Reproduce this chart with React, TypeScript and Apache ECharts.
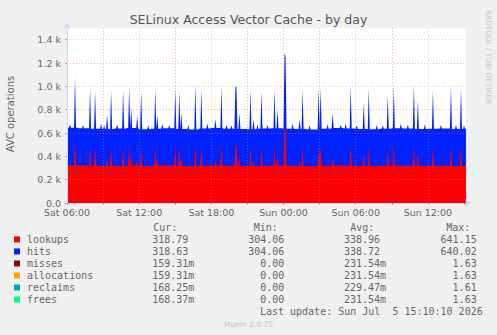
import React, { useEffect, useRef } from "react";
import * as echarts from "echarts";

// ---- time axis (hours since Sat 00:00), 5-minute samples ----
const X_START = 6; // Sat 06:00
const X_END = 39 + 10 / 60; // Sun 15:10
const SAMPLES = 399;

// ---- hourly baselines (hours 06..39) ----
const lookupsHourly = [324, 321, 319, 318, 320, 322, 317, 319, 321, 318, 316, 320, 322, 319, 318, 317, 320, 321, 319, 318, 316, 319, 322, 320, 318, 317, 319, 321, 320, 318, 319, 320, 318, 319];
const hitsHourly = [322, 320, 318, 317, 319, 321, 316, 318, 320, 317, 315, 319, 321, 318, 317, 316, 319, 320, 318, 317, 315, 318, 321, 319, 317, 316, 318, 320, 319, 317, 318, 319, 317, 318];

// ---- spikes: [time, lookups, hits] ----
const spikes: [string, number, number][] = [
  ["Sat 06:40", 542, 540], ["Sat 07:55", 493, 492], ["Sat 08:20", 482, 481], ["Sat 09:20", 378, 377],
  ["Sat 09:40", 482, 481], ["Sat 10:40", 482, 481], ["Sat 11:10", 497, 496], ["Sat 11:20", 409, 408],
  ["Sat 11:50", 371, 370], ["Sat 12:10", 478, 477], ["Sat 13:20", 488, 487], ["Sat 13:30", 378, 377],
  ["Sat 15:00", 488, 487], ["Sat 15:20", 478, 477], ["Sat 15:30", 385, 384], ["Sat 16:40", 507, 506],
  ["Sat 17:10", 488, 487], ["Sat 18:20", 359, 358], ["Sat 18:50", 497, 496], ["Sat 20:00", 499, 498],
  ["Sat 20:05", 499, 498], ["Sat 20:20", 385, 384], ["Sat 21:15", 488, 487], ["Sat 21:30", 357, 356],
  ["Sat 22:10", 478, 477], ["Sat 23:15", 488, 487], ["Sat 23:30", 399, 398], ["Sun 00:05", 641.15, 640.02],
  ["Sun 00:10", 630, 628], ["Sun 01:20", 358, 357], ["Sun 01:35", 488, 487], ["Sun 02:55", 493, 492],
  ["Sun 03:05", 493, 492], ["Sun 04:05", 385, 384], ["Sun 05:35", 500, 499], ["Sun 06:40", 430, 429],
  ["Sun 07:05", 490, 489], ["Sun 08:40", 460, 459], ["Sun 09:10", 500, 499], ["Sun 10:50", 505, 504],
  ["Sun 11:10", 440, 439], ["Sun 12:25", 480, 479], ["Sun 13:55", 500, 499], ["Sun 14:45", 490, 489],
];

// ---- small bumps on the hits series: [time, hits] ----
const hitsBumps: [string, number][] = [
  ["Sat 06:15", 352], ["Sat 07:20", 345], ["Sat 08:50", 360], ["Sat 09:05", 348], ["Sat 10:10", 355],
  ["Sat 12:45", 350], ["Sat 13:55", 358], ["Sat 14:30", 346], ["Sat 16:05", 352], ["Sat 17:40", 362],
  ["Sat 19:15", 350], ["Sat 19:40", 345], ["Sat 21:50", 356], ["Sat 22:40", 348], ["Sun 00:45", 360],
  ["Sun 02:10", 350], ["Sun 03:40", 355], ["Sun 04:45", 346], ["Sun 05:10", 362], ["Sun 06:05", 350],
  ["Sun 07:45", 352], ["Sun 08:15", 345], ["Sun 09:45", 358], ["Sun 10:20", 350], ["Sun 11:45", 356],
  ["Sun 13:05", 348], ["Sun 14:20", 352], ["Sun 15:00", 346],
];

// ---- legend / statistics ----
const legendNames = ["lookups", "hits", "misses", "allocations", "reclaims", "frees"];
const legendColors = ["#ff0000", "#0022ff", "#990000", "#ffa500", "#00aaaa", "#00ff80"];
const curVals = ["318.79", "318.63", "159.31m", "159.31m", "168.25m", "168.37m"];
const minVals = ["304.06", "304.06", "0.00", "0.00", "0.00", "0.00"];
const avgVals = ["338.96", "338.72", "231.54m", "231.54m", "229.47m", "231.54m"];
const maxVals = ["641.15", "640.02", "1.63", "1.63", "1.61", "1.63"];
const headers = ["Cur:", "Min:", "Avg:", "Max:"];

const xLabelHours = [6, 12, 18, 24, 30, 36];
const yLabelValues = [0, 200, 400, 600, 800, 1000, 1200, 1400];

function parseTime(s: string): number {
  const [day, hm] = s.split(" ");
  const [h, m] = hm.split(":").map(Number);
  return (day === "Sun" ? 24 : 0) + h + m / 60;
}
function idxOf(s: string): number {
  return Math.round((parseTime(s) - X_START) * 12);
}

function buildSeries() {
  const xs: number[] = [];
  const lookups: number[] = [];
  const hits: number[] = [];
  for (let i = 0; i < SAMPLES; i++) {
    xs.push(X_START + i / 12);
    const h = Math.floor(i / 12);
    lookups.push(lookupsHourly[h]);
    hits.push(hitsHourly[h]);
  }
  hitsBumps.forEach(([t, v]) => {
    const i = idxOf(t);
    if (i >= 0 && i < SAMPLES) hits[i] = v;
  });
  spikes.forEach(([t, l, hv]) => {
    const i = idxOf(t);
    if (i >= 0 && i < SAMPLES) {
      lookups[i] = l;
      hits[i] = hv;
    }
  });
  return { xs, layers: [lookups, hits] };
}

const FONT = '"DejaVu Sans", sans-serif';
const MONO = '"DejaVu Sans Mono", monospace';
const TEXT = "#666666";
const MAJOR = "rgba(255,0,0,0.32)";
const MINOR = "rgba(150,150,150,0.45)";
const AXIS = "#cfd6f8";

function dayLabel(h: number): string {
  const day = h >= 24 ? "Sun" : "Sat";
  const hh = h % 24;
  return `${day} ${String(hh).padStart(2, "0")}:00`;
}

export default function App() {
  const ref = useRef<HTMLDivElement>(null);
  useEffect(() => {
    document.body.style.margin = "0";
    const chart = echarts.init(ref.current!, null, { renderer: "svg" });
    const { xs, layers } = buildSeries();

    // stack manually (cumulative sums), draw top layer first
    const cum: number[][] = [];
    layers.forEach((arr, k) => {
      cum.push(arr.map((v, i) => v + (k > 0 ? cum[k - 1][i] : 0)));
    });
    const series = cum
      .map((vals, k) => ({
        name: legendNames[k],
        type: "line",
        symbol: "none",
        showSymbol: false,
        data: vals.map((v, i) => [xs[i], v]),
        lineStyle: { width: 0 },
        areaStyle: { color: legendColors[k], opacity: 1 },
        itemStyle: { color: legendColors[k] },
        z: 2,
      }))
      .reverse();

    const graphic: any[] = [
      {
        type: "text", x: 248.5, y: 19,
        style: { text: "SELinux Access Vector Cache - by day", font: `12.5px ${FONT}`, fill: "#555", align: "center", verticalAlign: "middle" },
      },
      {
        type: "text", x: 10.5, y: 114, rotation: Math.PI / 2,
        style: { text: "AVC operations", font: `10px ${FONT}`, fill: TEXT, align: "center", verticalAlign: "middle" },
      },
      {
        type: "text", x: 488, y: 57, rotation: -Math.PI / 2,
        style: { text: "RRDTOOL / TOBI OETIKER", font: `7.3px ${FONT}`, fill: "#c8c8c8", align: "center", verticalAlign: "middle" },
      },
      {
        type: "text", x: 248.5, y: 324,
        style: { text: "Munin 2.0.75", font: `7.5px ${FONT}`, fill: "#c0c0c0", align: "center", verticalAlign: "middle" },
      },
      {
        type: "text", x: 482.7, y: 311.3,
        style: { text: "Last update: Sun Jul  5 15:10:10 2026", font: `10px ${MONO}`, fill: TEXT, align: "right", verticalAlign: "middle" },
      },
    ];
    const headerX = [165.3, 265.7, 362.3, 458.3];
    headers.forEach((h, k) => {
      graphic.push({
        type: "text", x: headerX[k], y: 227.5,
        style: { text: h, font: `10px ${MONO}`, fill: TEXT, align: "center", verticalAlign: "middle" },
      });
    });
    const colEnd = [188.3, 284.3, 380, 476.7];
    const cols = [curVals, minVals, avgVals, maxVals];
    legendNames.forEach((name, k) => {
      const y = 239.4 + 12.03 * k;
      graphic.push({
        type: "rect", shape: { x: 14, y: y - 3, width: 6, height: 6 },
        style: { fill: legendColors[k] },
      });
      graphic.push({
        type: "text", x: 27, y,
        style: { text: name, font: `10px ${MONO}`, fill: TEXT, align: "left", verticalAlign: "middle" },
      });
      cols.forEach((col, c) => {
        const v = col[k];
        const hasSuffix = v.endsWith("m");
        const num = hasSuffix ? v.slice(0, -1) : v;
        graphic.push({
          type: "text", x: colEnd[c], y,
          style: { text: num, font: `10px ${MONO}`, fill: TEXT, align: "right", verticalAlign: "middle" },
        });
        if (hasSuffix) {
          graphic.push({
            type: "text", x: colEnd[c], y,
            style: { text: "m", font: `10px ${MONO}`, fill: TEXT, align: "left", verticalAlign: "middle" },
          });
        }
      });
    });

    chart.setOption({
      animation: false,
      backgroundColor: "#f0f0f0",
      textStyle: { fontFamily: FONT },
      grid: { left: 67, right: 31, top: 28, bottom: 132, show: true, backgroundColor: "#ffffff", borderWidth: 0 },
      xAxis: {
        type: "value",
        min: X_START,
        max: X_END,
        interval: 1,
        z: 3,
        axisLine: {
          show: true,
          lineStyle: { color: AXIS, width: 1 },
          symbol: ["none", "arrow"],
          symbolSize: [6, 6],
          symbolOffset: [0, 5],
        },
        axisTick: {
          show: true,
          customValues: [6, 9, 12, 15, 18, 21, 24, 27, 30, 33, 36, 39],
          length: 2,
          lineStyle: { color: "rgba(255,0,0,0.45)" },
        },
        axisLabel: {
          customValues: xLabelHours,
          formatter: (v: number) => (xLabelHours.includes(Math.round(v)) && Math.abs(v - Math.round(v)) < 1e-6 ? dayLabel(Math.round(v)) : ""),
          color: TEXT,
          fontSize: 9.5,
          fontFamily: FONT,
          margin: 5,
          lineHeight: 9,
        },
        splitLine: {
          show: true,
          showMinLine: false,
          showMaxLine: false,
          lineStyle: { color: [MINOR, MINOR, MAJOR], type: [1, 2], width: 1 },
        },
      },
      yAxis: {
        type: "value",
        min: 0,
        max: 1500,
        interval: 100,
        z: 3,
        axisLine: {
          show: true,
          lineStyle: { color: AXIS, width: 1 },
          symbol: ["none", "arrow"],
          symbolSize: [6, 6],
          symbolOffset: [0, 5],
        },
        axisTick: {
          show: true,
          customValues: yLabelValues,
          length: 2,
          lineStyle: { color: "rgba(255,0,0,0.45)" },
        },
        axisLabel: {
          customValues: yLabelValues,
          formatter: (v: number) => (v === 0 ? "0.0" : v % 200 === 0 ? `${(v / 1000).toFixed(1)} k` : ""),
          color: TEXT,
          fontSize: 9.5,
          fontFamily: FONT,
          margin: 6,
          lineHeight: 9,
        },
        splitLine: {
          show: true,
          showMinLine: false,
          lineStyle: { color: [MINOR, MAJOR], type: [1, 2], width: 1 },
        },
      },
      series,
      graphic,
    });
    return () => chart.dispose();
  }, []);
  return <div ref={ref} style={{ width: 497, height: 335 }} />;
}
